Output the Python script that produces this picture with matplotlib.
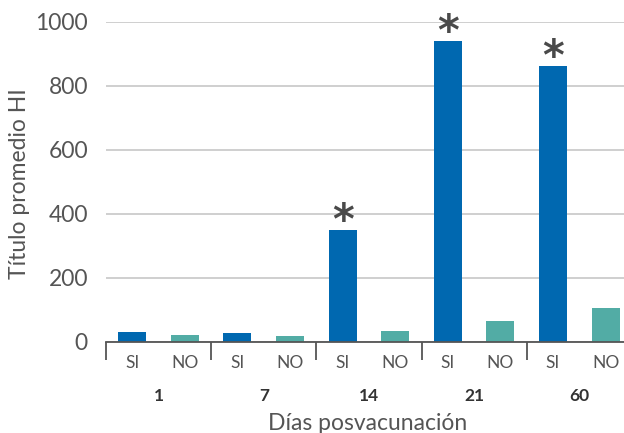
import matplotlib
matplotlib.use("Agg")
import matplotlib.pyplot as plt

days = ["1", "7", "14", "21", "60"]
groups = ["SI", "NO"]
si_values = [30, 26, 348, 939, 861]
no_values = [20, 17, 33, 64, 105]
significant = [False, False, True, True, True]
yticks = [0, 200, 400, 600, 800, 1000]

SI_COLOR = "#0068b0"
NO_COLOR = "#52aca5"
TXT = "#555555"

plt.rcParams['font.family'] = ['Lato', 'DejaVu Sans']

fig = plt.figure(figsize=(6.24, 4.33), dpi=100)
ax = fig.add_axes([106/624, 91.5/433, 1 - 106/624, 320/433])

n = len(days)
si_x = [2*i for i in range(n)]
no_x = [2*i + 1 for i in range(n)]
w = 0.533
ax.bar(si_x, si_values, width=w, color=SI_COLOR, zorder=3)
ax.bar(no_x, no_values, width=w, color=NO_COLOR, zorder=3)

for x, v, s in zip(si_x, si_values, significant):
    if s:
        ax.annotate("*", (x, v), xytext=(0, 6), textcoords="offset points",
                    ha="center", va="center", fontsize=30, fontweight="bold",
                    color="#4a4a4a", annotation_clip=False, family="DejaVu Sans")

ax.set_ylim(0, 1000)
ax.set_xlim(-0.5, 9.35)
ax.set_yticks(yticks)
ax.set_yticklabels([str(t) for t in yticks], fontsize=16.5, color=TXT)
ax.yaxis.grid(True, color="#cccccc", linewidth=1.3, zorder=0)
ax.tick_params(axis="y", length=0, pad=13)

ax.set_xticks([2*i - 0.5 for i in range(n)])
ax.set_xticklabels([])
ax.tick_params(axis="x", length=13, width=1.3, color="#555555", direction="out")

for sp in ["top", "right", "left"]:
    ax.spines[sp].set_visible(False)
ax.spines["bottom"].set_color("#555555")
ax.spines["bottom"].set_linewidth(1.3)
ax.spines["bottom"].set_zorder(4)

trans = ax.get_xaxis_transform()
for i in range(n):
    ax.text(si_x[i], -0.068, groups[0], transform=trans, ha="center", va="center",
            fontsize=12.5, color=TXT)
    ax.text(no_x[i], -0.068, groups[1], transform=trans, ha="center", va="center",
            fontsize=12.5, color=TXT)
    ax.text(2*i + 0.5, -0.17, days[i], transform=trans, ha="center", va="center",
            fontsize=12.5, color="#333333", fontweight="bold")

fig.text(368/624, 1 - 423/433, "Días posvacunación", ha="center", va="center",
         fontsize=16.5, color=TXT)
fig.text(20/624, 1 - 184/433, "Título promedio HI", ha="center", va="center",
         rotation=90, fontsize=16.5, color=TXT)

fig.savefig("out.png", dpi=100)
